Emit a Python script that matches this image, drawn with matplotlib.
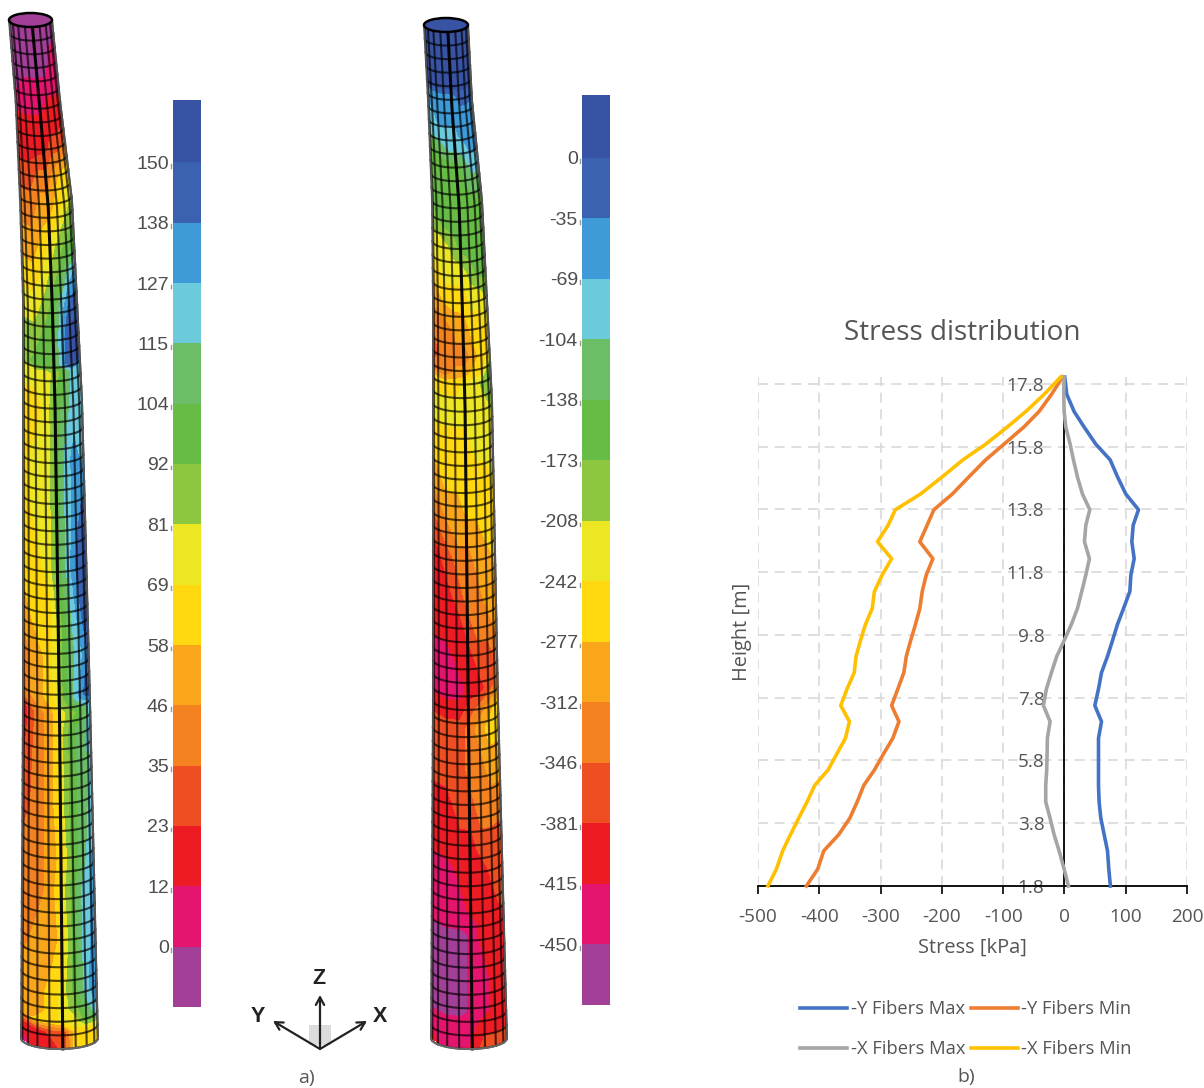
import numpy as np
import matplotlib
matplotlib.use('Agg')
import matplotlib.pyplot as plt
from matplotlib.patches import Ellipse, Rectangle

plt.rcParams['font.family'] = ['Open Sans', 'DejaVu Sans']
plt.rcParams['axes.unicode_minus'] = False

# ---- stress chart values
heights = [1.80, 2.34, 2.92, 3.44, 3.96, 4.48, 5.01, 5.50, 5.99, 6.51, 7.04, 7.55, 8.08, 8.60, 9.12, 9.62,
           10.14, 10.64, 11.19, 11.71, 12.23, 12.77, 13.30, 13.79, 14.29, 14.84, 15.38, 15.88, 16.43, 16.92, 17.47, 18.02]
y_max = [75, 72.4, 70.3, 64.8, 59.4, 56.6, 55.6, 55.6, 55.6, 55.6, 60.5, 49.6, 55.6, 60.5, 70.3, 78.4,
         86.6, 96.4, 106.8, 108.4, 113.8, 110, 112.2, 120.9, 100.2, 86.6, 74.6, 51.2, 32, 15.8, 3.8, 0.5]
y_min = [-421, -402.5, -392.7, -368.2, -350.2, -338.2, -327.3, -310, -295.8, -280, -270, -282, -271.8, -262, -258, -251,
         -243, -236, -232, -225.5, -214.6, -236, -224, -213, -183, -155.8, -128.5, -98.6, -66, -41.4, -21, -3]
x_max = [6.5, -0.5, -8.7, -16.9, -23.4, -30.5, -30.5, -28.9, -28.3, -27.8, -23.4, -34.3, -29.4, -21.2, -12.5, -0.5,
         11.4, 21.2, 28.3, 34.9, 40.8, 32.7, 34.9, 41.4, 29.4, 21.2, 14.7, 9.3, 2.2, -0.5, -1.1, -0.5]
x_min = [-483.7, -470, -459.7, -447, -433.6, -420, -407.4, -385.6, -372, -357.3, -350.8, -365, -354.6, -343, -340, -332.8,
         -324.6, -313.7, -310, -297.4, -282, -305, -287.6, -276, -234.8, -199.3, -165.6, -128.5, -93, -63, -33, -6]
height_ticks = [1.8, 3.8, 5.8, 7.8, 9.8, 11.8, 13.8, 15.8, 17.8]
stress_ticks = [-500, -400, -300, -200, -100, 0, 100, 200]

# ---- colour scales
band_colors = ['#3953A4', '#3B62B0', '#3F9BD8', '#6CCADD', '#6CBE66', '#67BC45', '#8DC63F', '#EDE622',
               '#FFD80F', '#FAA61A', '#F58220', '#EF4E23', '#ED1C24', '#E5146E', '#A23F97']
left_scale = ['150', '138', '127', '115', '104', '92', '81', '69', '58', '46', '35', '23', '12', '0']
right_scale = ['0', '-35', '-69', '-104', '-138', '-173', '-208', '-242', '-277', '-312', '-346', '-381', '-415', '-450']

# ---- tower fields, colour band index across the visible face
left_rows = [20, 60, 80, 100, 115, 140, 170, 200, 240, 270, 300, 330, 357, 365, 400, 450, 500, 560, 610, 650, 690, 705,
             720, 800, 850, 880, 930, 980, 1000, 1012, 1022, 1038]
left_field = [
    [14, 14, 14, 14, 14, 14, 14], [14, 14, 14, 14, 14, 13, 13], [14, 13, 13, 13, 13, 13, 13],
    [13, 13, 13, 13, 12, 12, 12], [12, 12, 12, 12, 12, 12, 12], [12, 12, 12, 12, 11, 11, 10],
    [11, 11, 10, 10, 9, 8, 8], [10, 10, 9, 9, 8, 7, 6], [9, 9, 8, 7, 6, 5, 5], [8, 8, 7, 6, 5, 3, 2],
    [7, 7, 6, 5, 3, 1, 1], [6, 6, 5, 5, 2, 0, 0], [6, 5, 5, 5, 2, 0, 0], [7, 7, 7, 6, 5, 3, 3],
    [8, 8, 7, 5, 4, 3, 3], [8, 7, 7, 5, 3, 2, 3], [8, 7, 7, 5, 3, 2, 1], [8, 8, 7, 5, 3, 1, 0],
    [9, 8, 8, 6, 4, 2, 0], [10, 9, 8, 6, 4, 3, 1], [10, 9, 8, 6, 4, 2, 0], [12, 10, 9, 7, 6, 5, 3],
    [12, 10, 9, 7, 5, 4, 3], [11, 10, 9, 7, 5, 4, 3], [10, 10, 9, 8, 5, 4, 2], [10, 10, 9, 7, 5, 3, 2],
    [10, 9, 9, 8, 5, 3, 2], [9, 9, 8, 7, 5, 3, 1], [9, 9, 8, 7, 6, 4, 2], [9, 8, 8, 7, 7, 5, 3],
    [12, 12, 11, 11, 8, 8, 7], [13, 12, 12, 11, 8, 8, 8]]
right_rows = [25, 80, 90, 110, 130, 140, 160, 200, 215, 240, 265, 290, 320, 350, 365, 375, 400, 440, 470, 500, 525, 550,
              590, 620, 650, 680, 700, 720, 760, 800, 840, 860, 900, 915, 925, 970, 1000, 1010, 1038]
right_field = [
    [0, 0, 0, 0, 0, 0, 0], [0, 0, 0, 0, 0, 0, 0], [2, 2, 2, 2, 1, 1, 1], [3, 2, 2, 2, 2, 2, 2],
    [3, 3, 3, 3, 2, 2, 2], [5, 4, 3, 3, 3, 2, 2], [5, 5, 5, 5, 4, 3, 3], [5, 5, 5, 5, 5, 5, 5],
    [6, 5, 5, 5, 5, 5, 5], [7, 7, 6, 5, 5, 5, 5], [8, 7, 7, 7, 6, 5, 5], [9, 8, 8, 8, 7, 7, 6],
    [10, 10, 9, 9, 8, 8, 7], [11, 10, 10, 10, 9, 8, 7], [10, 10, 9, 9, 8, 8, 5], [8, 8, 8, 7, 7, 6, 5],
    [7, 7, 7, 7, 7, 7, 6], [8, 8, 8, 8, 7, 7, 7], [9, 8, 8, 8, 8, 8, 7], [10, 9, 9, 8, 8, 8, 8],
    [11, 10, 9, 9, 9, 8, 8], [12, 11, 10, 10, 9, 9, 8], [12, 12, 11, 10, 10, 9, 9], [12, 12, 12, 11, 10, 10, 9],
    [13, 13, 12, 12, 11, 11, 10], [13, 13, 13, 12, 12, 11, 10], [12, 12, 12, 11, 10, 9, 8], [11, 11, 11, 10, 9, 8, 8],
    [11, 11, 11, 10, 10, 9, 9], [12, 12, 11, 11, 10, 10, 10], [12, 12, 12, 12, 11, 11, 11], [13, 13, 12, 12, 12, 11, 11],
    [13, 13, 13, 12, 12, 12, 11], [13, 13, 13, 13, 12, 12, 12], [14, 14, 14, 13, 12, 12, 12], [14, 14, 14, 13, 13, 12, 12],
    [14, 14, 14, 13, 13, 12, 12], [13, 13, 13, 13, 12, 12, 12], [12, 13, 13, 12, 11, 11, 11]]
face_u = np.array([-1, -0.6, -0.2, 0.1, 0.4, 0.7, 1])


def draw_tower(ax, rows, field, edge_y, edge_l, edge_r, top_color):
    rows = np.array(rows, dtype=float)
    left = np.interp(rows, edge_y, edge_l)
    right = np.interp(rows, edge_y, edge_r)
    bulge = np.interp(rows, [rows[0], rows[-1]], [7, 11])
    mid = (left + right) / 2
    half = (right - left) / 2
    X = mid[:, None] + half[:, None] * face_u[None, :]
    Y = rows[:, None] + bulge[:, None] * np.sqrt(1 - face_u[None, :] ** 2)
    ax.contourf(X, Y, np.array(field), levels=np.arange(-0.5, 15), colors=band_colors, zorder=2)

    # top opening
    ax.add_patch(Ellipse((mid[0], rows[0]), 2 * half[0], 2 * bulge[0], fc=top_color, ec='black', lw=1.8, zorder=4))

    # rings
    th = np.radians(np.linspace(-90, 90, 41))
    for yr in np.linspace(rows[0], rows[-1], 76)[1:]:
        l, r = np.interp(yr, edge_y, edge_l), np.interp(yr, edge_y, edge_r)
        b = np.interp(yr, [rows[0], rows[-1]], [7, 11])
        ax.plot((l + r) / 2 + (r - l) / 2 * np.sin(th), yr + b * np.cos(th), color='black', lw=1.5, alpha=0.68, zorder=3)

    # columns, the one near the middle is drawn heavier
    yy = np.linspace(rows[0], rows[-1], 120)
    ll, rr = np.interp(yy, edge_y, edge_l), np.interp(yy, edge_y, edge_r)
    bb = np.interp(yy, [rows[0], rows[-1]], [7, 11])
    for deg in range(-75, 90, 20):
        u = np.sin(np.radians(deg))
        yc = yy + bb * np.cos(np.radians(deg))
        heavy = deg == 5
        ax.plot((ll + rr) / 2 + (rr - ll) / 2 * u, yc, color='black', lw=2.2 if heavy else 1.5,
                alpha=0.95 if heavy else 0.68, zorder=3)

    # silhouette
    ax.plot(ll, yy, color='#555555', lw=1.4, zorder=3)
    ax.plot(rr, yy, color='#555555', lw=1.4, zorder=3)
    ax.plot((ll[-1] + rr[-1]) / 2 + (rr[-1] - ll[-1]) / 2 * np.sin(th), yy[-1] + bb[-1] * np.cos(th),
            color='#666666', lw=1.4, zorder=3)


def draw_scale(fig, x0, y0, x1, y1, labels):
    cax = fig.add_axes([x0 / 1204, 1 - y1 / 1088, (x1 - x0) / 1204, (y1 - y0) / 1088])
    cax.bar(0, [1.03] + [1] * 14, bottom=[-0.03] + list(range(1, 15)), width=1, color=band_colors, clip_on=False)
    cax.set_xlim(-0.5, 0.5)
    cax.set_ylim(15, 0)
    cax.set_xticks([])
    cax.set_yticks(np.arange(1, 15))
    cax.set_yticklabels(labels, fontfamily='Liberation Sans', fontsize=14, color='#4d4d4d')
    cax.tick_params(axis='y', length=0, pad=3)
    for s in cax.spines.values():
        s.set_visible(False)
    # little marks under each label
    for k in range(1, 15):
        cax.plot([-0.58, -0.58], [k + 0.03, k + 0.09], color='#999999', lw=1, clip_on=False)


fig = plt.figure(figsize=(12.04, 10.88), dpi=100)

# overlay in picture pixels for the two rendered towers
bg = fig.add_axes([0, 0, 1, 1])
bg.set_xlim(0, 1204)
bg.set_ylim(1088, 0)
bg.axis('off')

draw_tower(bg, left_rows, left_field, [20, 100, 200, 300, 400, 700, 1040],
           [9, 15.6, 20, 23, 23, 23, 21], [52, 60, 72, 77, 82, 90, 98], '#A23F97')
draw_tower(bg, right_rows, right_field, [25, 100, 200, 300, 400, 700, 1040],
           [424, 428, 432, 433, 433, 433, 431], [468, 472, 482, 487, 492, 498, 507], '#3953A4')

draw_scale(fig, 173, 102, 201, 1007, left_scale)
draw_scale(fig, 582, 97, 610, 1005, right_scale)

# axis triad
bg.add_patch(Rectangle((309, 1025), 22, 20, fc='#D4D4D4', ec='none', alpha=0.8, zorder=1))
for end in [(320, 995), (273, 1021), (367, 1021)]:
    bg.annotate('', xy=end, xytext=(320, 1049),
                arrowprops=dict(arrowstyle='->,head_width=0.3,head_length=0.55', color='#222222', lw=1.6, shrinkA=0, shrinkB=0))
for lab, lx, ly in [('Z', 319, 979), ('Y', 258, 1016), ('X', 380, 1016)]:
    bg.text(lx, ly, lab, ha='center', va='center', fontsize=15.5, fontweight='bold', fontfamily='Liberation Sans', color='#222222')

bg.text(306, 1078, 'a)', ha='center', va='center', fontsize=14, color='#555555')
bg.text(966, 1077, 'b)', ha='center', va='center', fontsize=14, color='#555555')

# stress chart
ax = fig.add_axes([758 / 1204, 1 - 886 / 1088, 429 / 1204, 509 / 1088])
l1, = ax.plot(y_max, heights, color='#4472C4', lw=2.6, label='-Y Fibers Max', clip_on=False, zorder=3)
l2, = ax.plot(y_min, heights, color='#ED7D31', lw=2.6, label='-Y Fibers Min', clip_on=False, zorder=3)
l3, = ax.plot(x_max, heights, color='#A5A5A5', lw=2.6, label='-X Fibers Max', clip_on=False, zorder=3)
l4, = ax.plot(x_min, heights, color='#FFC000', lw=2.6, label='-X Fibers Min', clip_on=False, zorder=3)

ax.set_xlim(-500, 200)
ax.set_ylim(1.8, 18.02)
ax.set_xticks(stress_ticks)
ax.set_yticks(height_ticks)
ax.set_yticklabels([str(h) for h in height_ticks])
ax.grid(True, color='#D9D9D9', lw=1.2, linestyle=(0, (6, 4)))
ax.set_axisbelow(True)
ax.patch.set_alpha(0)

for side in ['top', 'right']:
    ax.spines[side].set_visible(False)
ax.spines['left'].set_position(('data', 0))
ax.spines['left'].set_color('black')
ax.spines['left'].set_linewidth(1.3)
ax.spines['left'].set_zorder(2.5)
ax.spines['bottom'].set_linewidth(1.3)
ax.tick_params(axis='x', length=6, width=1.2, labelsize=13.7, labelcolor='#555555', pad=9.5)
ax.tick_params(axis='y', length=0, labelsize=13.7, labelcolor='#555555', pad=14.4)

ax.set_xlabel('Stress [kPa]', fontsize=14.4, color='#555555', labelpad=9)
ax.set_ylabel('Height [m]', fontsize=14.4, color='#555555')
ax.yaxis.set_label_coords(-0.014, 0.499)
bg.text(962, 333, 'Stress distribution', ha='center', va='center', fontsize=20.1, color='#555555')

fig.legend(handles=[l1, l3, l2, l4], loc='center', bbox_to_anchor=(966 / 1204, 1 - 1029 / 1088), ncol=2, frameon=False,
           fontsize=13.2, handlelength=2.55, handletextpad=0.2, columnspacing=0.3, labelspacing=1.2, labelcolor='#555555')

fig.savefig('out.png', dpi=100)
